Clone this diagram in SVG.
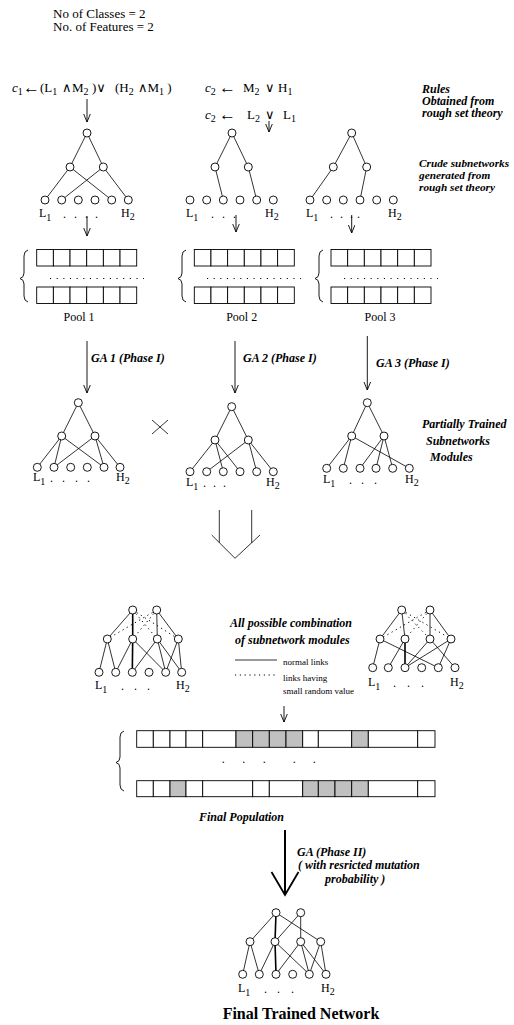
<svg xmlns="http://www.w3.org/2000/svg" width="514" height="1025" viewBox="0 0 514 1025">
<style>
.n{fill:#fff;stroke:#000;stroke-width:0.9}
.e{stroke:#000;stroke-width:0.8;fill:none}
.k{stroke:#000;stroke-width:1.6;fill:none}
.d{stroke:#000;stroke-width:1;stroke-dasharray:1.2 3.6;fill:none}
.c{fill:#fff;stroke:#000;stroke-width:0.9}
.g{fill:#c0c0c0;stroke:#000;stroke-width:0.9}
.t{font-family:"Liberation Serif","DejaVu Serif",serif;font-size:12px;fill:#000}
.h{font-family:"Liberation Serif","DejaVu Serif",serif;font-size:13px;fill:#000}
.r{font-family:"Liberation Serif","DejaVu Serif",serif;font-size:13px;fill:#000}
.ar{font-size:17px}
.bi{font-family:"Liberation Serif","DejaVu Serif",serif;font-size:12px;font-weight:bold;font-style:italic;fill:#000}
.bs{font-family:"Liberation Serif","DejaVu Serif",serif;font-size:11.3px;font-weight:bold;font-style:italic;fill:#000}
.sm{font-family:"Liberation Serif","DejaVu Serif",serif;font-size:9px;fill:#000}
.s{font-size:10px}
.a{stroke:#000;stroke-width:0.9;fill:none;marker-end:url(#ah)}
.br{stroke:#000;stroke-width:0.9;fill:none}
.pd{stroke:#000;stroke-width:1.1;stroke-dasharray:1.1 5.55;fill:none}
</style>
<defs>
<marker id="ah" markerUnits="userSpaceOnUse" markerWidth="10" markerHeight="9" refX="8.5" refY="3.5" orient="auto">
<path d="M0,0 L8.5,3.5 L0,7" fill="none" stroke="#000" stroke-width="0.9"/>
</marker>
</defs>

<g id="header">
<text class="h" x="53" y="18">No of Classes = 2</text>
<text class="h" x="53" y="31">No. of Features = 2</text>
</g>

<g id="rules">
<text class="r" y="92"><tspan x="12" font-style="italic">c</tspan><tspan class="s" dy="3">1</tspan><tspan x="23" dy="-2" class="ar">←</tspan><tspan x="40" dy="-1">(L</tspan><tspan class="s" dy="3">1</tspan><tspan x="62" dy="-3">∧</tspan><tspan x="72">M</tspan><tspan class="s" dy="3">2</tspan><tspan x="92" dy="-3">)∨</tspan><tspan x="115">(H</tspan><tspan class="s" dy="3">2</tspan><tspan x="138" dy="-3">∧M</tspan><tspan class="s" dy="3">1</tspan><tspan dy="-3"> )</tspan></text>
<text class="r" y="92"><tspan x="205" font-style="italic">c</tspan><tspan class="s" dy="3">2</tspan><tspan x="219" dy="-2" class="ar">←</tspan><tspan x="243" dy="-1">M</tspan><tspan class="s" dy="3">2</tspan><tspan x="265" dy="-3">∨</tspan><tspan x="278">H</tspan><tspan class="s" dy="3">1</tspan></text>
<text class="r" y="119"><tspan x="205" font-style="italic">c</tspan><tspan class="s" dy="3">2</tspan><tspan x="219" dy="-2" class="ar">←</tspan><tspan x="247" dy="-1">L</tspan><tspan class="s" dy="3">2</tspan><tspan x="265" dy="-3">∨</tspan><tspan x="283">L</tspan><tspan class="s" dy="3">1</tspan></text>
<text class="bi" x="422" y="93">Rules</text>
<text class="bi" x="422" y="105">Obtained from</text>
<text class="bi" x="422" y="117">rough set theory</text>
</g>

<g id="crude1">
<line class="e" x1="87" y1="133" x2="70" y2="167"/><line class="e" x1="87" y1="133" x2="103.3" y2="167"/>
<line class="e" x1="70" y1="167" x2="45" y2="200"/><line class="e" x1="70" y1="167" x2="111.7" y2="200"/>
<line class="e" x1="103.3" y1="167" x2="61.7" y2="200"/><line class="e" x1="103.3" y1="167" x2="128.3" y2="200"/>
<circle class="n" cx="87" cy="133" r="4"/><circle class="n" cx="70" cy="167" r="4"/><circle class="n" cx="103.3" cy="167" r="4"/>
<circle class="n" cx="45" cy="200" r="4"/><circle class="n" cx="61.7" cy="200" r="4"/><circle class="n" cx="78.3" cy="200" r="4"/><circle class="n" cx="95" cy="200" r="4"/><circle class="n" cx="111.7" cy="200" r="4"/><circle class="n" cx="128.3" cy="200" r="4"/>
<text class="t" x="39" y="217">L<tspan class="s" dy="4">1</tspan></text>
<text class="t" x="63 74 85 95" y="218">....</text>
<text class="t" x="121" y="217">H<tspan class="s" dy="3">2</tspan></text>
</g>

<g id="crude2">
<line class="e" x1="232" y1="133" x2="215" y2="167"/><line class="e" x1="232" y1="133" x2="248.3" y2="167"/>
<line class="e" x1="215" y1="167" x2="223.3" y2="200"/><line class="e" x1="248.3" y1="167" x2="256.7" y2="200"/>
<circle class="n" cx="232" cy="133" r="4"/><circle class="n" cx="215" cy="167" r="4"/><circle class="n" cx="248.3" cy="167" r="4"/>
<circle class="n" cx="190" cy="200" r="4"/><circle class="n" cx="206.7" cy="200" r="4"/><circle class="n" cx="223.3" cy="200" r="4"/><circle class="n" cx="240" cy="200" r="4"/><circle class="n" cx="256.7" cy="200" r="4"/><circle class="n" cx="273.3" cy="200" r="4"/>
<text class="t" x="186" y="217">L<tspan class="s" dy="4">1</tspan></text>
<text class="t" x="211 222 233" y="218">...</text>
<text class="t" x="265" y="217">H<tspan class="s" dy="3">2</tspan></text>
</g>

<g id="crude3">
<line class="e" x1="351.7" y1="133" x2="333.3" y2="167"/><line class="e" x1="351.7" y1="133" x2="366.7" y2="167"/>
<line class="e" x1="333.3" y1="167" x2="310" y2="200"/><line class="e" x1="366.7" y1="167" x2="360" y2="200"/>
<circle class="n" cx="351.7" cy="133" r="4"/><circle class="n" cx="333.3" cy="167" r="4"/><circle class="n" cx="366.7" cy="167" r="4"/>
<circle class="n" cx="310" cy="200" r="4"/><circle class="n" cx="326.7" cy="200" r="4"/><circle class="n" cx="343.3" cy="200" r="4"/><circle class="n" cx="360" cy="200" r="4"/><circle class="n" cx="376.7" cy="200" r="4"/><circle class="n" cx="393.3" cy="200" r="4"/>
<text class="t" x="306" y="217">L<tspan class="s" dy="4">1</tspan></text>
<text class="t" x="330 340 350 357" y="218">....</text>
<text class="t" x="388" y="217">H<tspan class="s" dy="3">2</tspan></text>
<text class="bs" x="419" y="167">Crude subnetworks</text>
<text class="bs" x="419" y="179">generated from</text>
<text class="bs" x="419" y="191">rough set theory</text>
</g>

<g id="pool1">
<path class="br" d="M28,250 Q24,251 24,256 L24,273 Q24,277.5 20,278.5 Q24,279.5 24,284 L24,296 Q24,301 28,302"/>
<rect class="c" x="36.7" y="249.5" width="16.67" height="16.5"/><rect class="c" x="53.37" y="249.5" width="16.67" height="16.5"/><rect class="c" x="70.03" y="249.5" width="16.67" height="16.5"/><rect class="c" x="86.7" y="249.5" width="16.67" height="16.5"/><rect class="c" x="103.37" y="249.5" width="16.67" height="16.5"/><rect class="c" x="120.03" y="249.5" width="16.67" height="16.5"/>
<line class="pd" x1="50" y1="278.5" x2="144" y2="278.5"/>
<rect class="c" x="36.7" y="287" width="16.67" height="16.5"/><rect class="c" x="53.37" y="287" width="16.67" height="16.5"/><rect class="c" x="70.03" y="287" width="16.67" height="16.5"/><rect class="c" x="86.7" y="287" width="16.67" height="16.5"/><rect class="c" x="103.37" y="287" width="16.67" height="16.5"/><rect class="c" x="120.03" y="287" width="16.67" height="16.5"/>
<text class="t" x="79" y="321" text-anchor="middle">Pool 1</text>
</g>

<g id="pool2">
<path class="br" d="M186,250 Q182,251 182,256 L182,273 Q182,277.5 178,278.5 Q182,279.5 182,284 L182,296 Q182,301 186,302"/>
<rect class="c" x="194.3" y="249.5" width="16.67" height="16.5"/><rect class="c" x="210.97" y="249.5" width="16.67" height="16.5"/><rect class="c" x="227.63" y="249.5" width="16.67" height="16.5"/><rect class="c" x="244.3" y="249.5" width="16.67" height="16.5"/><rect class="c" x="260.97" y="249.5" width="16.67" height="16.5"/><rect class="c" x="277.63" y="249.5" width="16.67" height="16.5"/>
<line class="pd" x1="207" y1="278.5" x2="301" y2="278.5"/>
<rect class="c" x="194.3" y="287" width="16.67" height="16.5"/><rect class="c" x="210.97" y="287" width="16.67" height="16.5"/><rect class="c" x="227.63" y="287" width="16.67" height="16.5"/><rect class="c" x="244.3" y="287" width="16.67" height="16.5"/><rect class="c" x="260.97" y="287" width="16.67" height="16.5"/><rect class="c" x="277.63" y="287" width="16.67" height="16.5"/>
<text class="t" x="241.7" y="321" text-anchor="middle">Pool 2</text>
</g>

<g id="pool3">
<path class="br" d="M323,250 Q319,251 319,256 L319,273 Q319,277.5 315,278.5 Q319,279.5 319,284 L319,296 Q319,301 323,302"/>
<rect class="c" x="331" y="249.5" width="16.67" height="16.5"/><rect class="c" x="347.67" y="249.5" width="16.67" height="16.5"/><rect class="c" x="364.33" y="249.5" width="16.67" height="16.5"/><rect class="c" x="381" y="249.5" width="16.67" height="16.5"/><rect class="c" x="397.67" y="249.5" width="16.67" height="16.5"/><rect class="c" x="414.33" y="249.5" width="16.67" height="16.5"/>
<line class="pd" x1="344" y1="278.5" x2="438" y2="278.5"/>
<rect class="c" x="331" y="287" width="16.67" height="16.5"/><rect class="c" x="347.67" y="287" width="16.67" height="16.5"/><rect class="c" x="364.33" y="287" width="16.67" height="16.5"/><rect class="c" x="381" y="287" width="16.67" height="16.5"/><rect class="c" x="397.67" y="287" width="16.67" height="16.5"/><rect class="c" x="414.33" y="287" width="16.67" height="16.5"/>
<text class="t" x="380" y="321" text-anchor="middle">Pool 3</text>
</g>

<g id="trainedA">
<line class="e" x1="78.3" y1="402.7" x2="61.7" y2="436"/><line class="e" x1="78.3" y1="402.7" x2="95" y2="436"/>
<line class="e" x1="61.7" y1="436" x2="37.3" y2="467.3"/><line class="e" x1="61.7" y1="436" x2="54" y2="467.3"/><line class="e" x1="61.7" y1="436" x2="104" y2="467.3"/>
<line class="e" x1="95" y1="436" x2="54" y2="467.3"/><line class="e" x1="95" y1="436" x2="104" y2="467.3"/><line class="e" x1="95" y1="436" x2="120" y2="467.3"/>
<circle class="n" cx="78.3" cy="402.7" r="4"/><circle class="n" cx="61.7" cy="436" r="4"/><circle class="n" cx="95" cy="436" r="4"/>
<circle class="n" cx="37.3" cy="467.3" r="4"/><circle class="n" cx="54" cy="467.3" r="4"/><circle class="n" cx="70.7" cy="467.3" r="4"/><circle class="n" cx="87.3" cy="467.3" r="4"/><circle class="n" cx="104" cy="467.3" r="4"/><circle class="n" cx="120" cy="467.3" r="4"/>
<text class="t" x="33" y="481">L<tspan class="s" dy="4">1</tspan></text>
<text class="t" x="50 62 75 87" y="482">....</text>
<text class="t" x="116" y="481">H<tspan class="s" dy="3">2</tspan></text>
</g>

<g id="cross">
<line class="e" x1="152" y1="420" x2="168" y2="434"/><line class="e" x1="168" y1="420" x2="152" y2="434"/>
</g>

<g id="trainedB">
<line class="e" x1="231.7" y1="406.7" x2="215" y2="440"/><line class="e" x1="231.7" y1="406.7" x2="248.3" y2="440"/>
<line class="e" x1="215" y1="440" x2="190" y2="471.7"/><line class="e" x1="215" y1="440" x2="223.3" y2="471.7"/><line class="e" x1="215" y1="440" x2="240" y2="471.7"/>
<line class="e" x1="248.3" y1="440" x2="206.7" y2="471.7"/><line class="e" x1="248.3" y1="440" x2="256.7" y2="471.7"/><line class="e" x1="248.3" y1="440" x2="273.3" y2="471.7"/>
<circle class="n" cx="231.7" cy="406.7" r="4"/><circle class="n" cx="215" cy="440" r="4"/><circle class="n" cx="248.3" cy="440" r="4"/>
<circle class="n" cx="190" cy="471.7" r="4"/><circle class="n" cx="206.7" cy="471.7" r="4"/><circle class="n" cx="223.3" cy="471.7" r="4"/><circle class="n" cx="240" cy="471.7" r="4"/><circle class="n" cx="256.7" cy="471.7" r="4"/><circle class="n" cx="273.3" cy="471.7" r="4"/>
<text class="t" x="186" y="486">L<tspan class="s" dy="4">1</tspan></text>
<text class="t" x="203 213 223" y="487">...</text>
<text class="t" x="266" y="486">H<tspan class="s" dy="3">2</tspan></text>
</g>

<g id="trainedC">
<line class="e" x1="367.3" y1="402.7" x2="351.7" y2="436"/><line class="e" x1="367.3" y1="402.7" x2="384" y2="436"/>
<line class="e" x1="351.7" y1="436" x2="326.7" y2="468.3"/><line class="e" x1="351.7" y1="436" x2="343.3" y2="468.3"/><line class="e" x1="351.7" y1="436" x2="409.3" y2="468.3"/>
<line class="e" x1="384" y1="436" x2="360" y2="468.3"/><line class="e" x1="384" y1="436" x2="376" y2="468.3"/><line class="e" x1="384" y1="436" x2="392.7" y2="468.3"/>
<circle class="n" cx="367.3" cy="402.7" r="4"/><circle class="n" cx="351.7" cy="436" r="4"/><circle class="n" cx="384" cy="436" r="4"/>
<circle class="n" cx="326.7" cy="468.3" r="4"/><circle class="n" cx="343.3" cy="468.3" r="4"/><circle class="n" cx="360" cy="468.3" r="4"/><circle class="n" cx="376" cy="468.3" r="4"/><circle class="n" cx="392.7" cy="468.3" r="4"/><circle class="n" cx="409.3" cy="468.3" r="4"/>
<text class="t" x="323" y="483">L<tspan class="s" dy="4">1</tspan></text>
<text class="t" x="349 361 374" y="484">...</text>
<text class="t" x="405" y="483">H<tspan class="s" dy="3">2</tspan></text>
<text class="bi" x="422" y="428">Partially Trained</text>
<text class="bi" x="426" y="445">Subnetworks</text>
<text class="bi" x="430" y="461">Modules</text>
</g>

<g id="combinedL">
<line class="d" x1="132.7" y1="610" x2="157.3" y2="639"/><line class="d" x1="132.7" y1="610" x2="178.3" y2="639"/>
<line class="d" x1="156.7" y1="610" x2="107.3" y2="639"/><line class="d" x1="156.7" y1="610" x2="132.7" y2="639"/>
<line class="e" x1="132.7" y1="610" x2="107.3" y2="639"/><line class="k" x1="132.7" y1="610" x2="132.7" y2="639"/>
<line class="e" x1="156.7" y1="610" x2="157.3" y2="639"/><line class="e" x1="156.7" y1="610" x2="178.3" y2="639"/>
<line class="e" x1="107.3" y1="639" x2="99" y2="672.3"/><line class="e" x1="107.3" y1="639" x2="115.7" y2="672.3"/>
<line class="e" x1="132.7" y1="639" x2="115.7" y2="672.3"/><line class="k" x1="132.7" y1="639" x2="132.3" y2="672.3"/><line class="e" x1="132.7" y1="639" x2="165.7" y2="672.3"/>
<line class="e" x1="157.3" y1="639" x2="132.3" y2="672.3"/><line class="e" x1="157.3" y1="639" x2="165.7" y2="672.3"/><line class="e" x1="157.3" y1="639" x2="181.7" y2="672.3"/>
<line class="e" x1="178.3" y1="639" x2="165.7" y2="672.3"/><line class="e" x1="178.3" y1="639" x2="181.7" y2="672.3"/>
<circle class="n" cx="132.7" cy="610" r="4"/><circle class="n" cx="156.7" cy="610" r="4"/>
<circle class="n" cx="107.3" cy="639" r="4"/><circle class="n" cx="132.7" cy="639" r="4"/><circle class="n" cx="157.3" cy="639" r="4"/><circle class="n" cx="178.3" cy="639" r="4"/>
<circle class="n" cx="99" cy="672.3" r="4"/><circle class="n" cx="115.7" cy="672.3" r="4"/><circle class="n" cx="132.3" cy="672.3" r="4"/><circle class="n" cx="149" cy="672.3" r="4"/><circle class="n" cx="165.7" cy="672.3" r="4"/><circle class="n" cx="181.7" cy="672.3" r="4"/>
<text class="t" x="95" y="689">L<tspan class="s" dy="4">1</tspan></text>
<text class="t" x="121 134 147" y="690">...</text>
<text class="t" x="176" y="689">H<tspan class="s" dy="3">2</tspan></text>
</g>

<g id="legend">
<text class="bi" x="230" y="627">All possible combination</text>
<text class="bi" x="235" y="644">of  subnetwork  modules</text>
<line class="e" x1="235" y1="660" x2="277" y2="660"/>
<text class="sm" x="283" y="665">normal links</text>
<line class="d" x1="235" y1="675" x2="278" y2="675"/>
<text class="sm" x="283" y="681">links having</text>
<text class="sm" x="283" y="694">small random value</text>
</g>

<g id="combinedR">
<line class="d" x1="401.7" y1="610" x2="430" y2="639"/><line class="d" x1="401.7" y1="610" x2="451" y2="639"/>
<line class="d" x1="430" y1="610" x2="380" y2="639"/><line class="d" x1="430" y1="610" x2="405" y2="639"/>
<line class="e" x1="401.7" y1="610" x2="380" y2="639"/><line class="e" x1="401.7" y1="610" x2="405" y2="639"/>
<line class="e" x1="430" y1="610" x2="430" y2="639"/><line class="e" x1="430" y1="610" x2="451" y2="639"/>
<line class="e" x1="380" y1="639" x2="372.7" y2="667.7"/><line class="e" x1="380" y1="639" x2="438.3" y2="667.7"/>
<line class="e" x1="405" y1="639" x2="388.3" y2="667.7"/><line class="k" x1="405" y1="639" x2="405" y2="667.7"/>
<line class="e" x1="430" y1="639" x2="405" y2="667.7"/><line class="e" x1="430" y1="639" x2="455" y2="667.7"/>
<line class="e" x1="451" y1="639" x2="405" y2="667.7"/><line class="e" x1="451" y1="639" x2="438.3" y2="667.7"/>
<circle class="n" cx="401.7" cy="610" r="4"/><circle class="n" cx="430" cy="610" r="4"/>
<circle class="n" cx="380" cy="639" r="4"/><circle class="n" cx="405" cy="639" r="4"/><circle class="n" cx="430" cy="639" r="4"/><circle class="n" cx="451" cy="639" r="4"/>
<circle class="n" cx="372.7" cy="667.7" r="4"/><circle class="n" cx="388.3" cy="667.7" r="4"/><circle class="n" cx="405" cy="667.7" r="4"/><circle class="n" cx="421.7" cy="667.7" r="4"/><circle class="n" cx="438.3" cy="667.7" r="4"/><circle class="n" cx="455" cy="667.7" r="4"/>
<text class="t" x="368" y="686">L<tspan class="s" dy="4">1</tspan></text>
<text class="t" x="393 407 421" y="687">...</text>
<text class="t" x="450" y="686">H<tspan class="s" dy="3">2</tspan></text>
</g>

<g id="finalPopulation">
<path class="br" d="M124,731 Q120,732 120,737 L120,757 Q120,761.5 116,762.5 Q120,763.5 120,768 L120,785 Q120,790 124,791"/>
<rect class="c" x="136.7" y="730.7" width="16.6" height="16.6"/><rect class="c" x="153.3" y="730.7" width="16.7" height="16.6"/><rect class="c" x="170" y="730.7" width="16" height="16.6"/><rect class="c" x="186" y="730.7" width="16.7" height="16.6"/><rect class="c" x="202.7" y="730.7" width="33.3" height="16.6"/>
<rect class="g" x="236" y="730.7" width="16.7" height="16.6"/><rect class="g" x="252.7" y="730.7" width="16.6" height="16.6"/><rect class="g" x="269.3" y="730.7" width="16.7" height="16.6"/><rect class="g" x="286" y="730.7" width="16.7" height="16.6"/>
<rect class="c" x="302.7" y="730.7" width="15.6" height="16.6"/><rect class="c" x="318.3" y="730.7" width="33.4" height="16.6"/><rect class="g" x="351.7" y="730.7" width="16.6" height="16.6"/><rect class="c" x="368.3" y="730.7" width="49.4" height="16.6"/><rect class="c" x="417.7" y="730.7" width="17.3" height="16.6"/>
<text class="t" x="221.7 242.3 262.7 292.7 312.7" y="763">.....</text>
<rect class="c" x="136.7" y="780.7" width="16.6" height="16"/><rect class="c" x="153.3" y="780.7" width="16.7" height="16"/><rect class="g" x="170" y="780.7" width="16" height="16"/><rect class="c" x="186" y="780.7" width="16.7" height="16"/><rect class="c" x="202.7" y="780.7" width="50" height="16"/>
<rect class="c" x="252.7" y="780.7" width="16.6" height="16"/><rect class="c" x="269.3" y="780.7" width="33.4" height="16"/>
<rect class="g" x="302.7" y="780.7" width="15.6" height="16"/><rect class="g" x="318.3" y="780.7" width="16.7" height="16"/><rect class="g" x="335" y="780.7" width="16.7" height="16"/><rect class="g" x="351.7" y="780.7" width="16.6" height="16"/>
<rect class="c" x="368.3" y="780.7" width="49.4" height="16"/><rect class="c" x="417.7" y="780.7" width="17.3" height="16"/>
<text class="bi" x="199" y="821">Final  Population</text>
</g>

<g id="phase2label">
<text class="bi" x="297" y="856">GA  (Phase II)</text>
<text class="bi" x="298" y="869">( with resricted mutation</text>
<text class="bi" x="325" y="883">probability  )</text>
</g>

<g id="finalNet">
<line class="e" x1="276" y1="912.7" x2="250" y2="941.7"/><line class="k" x1="276" y1="912.7" x2="275" y2="941.7"/><line class="e" x1="276" y1="912.7" x2="320.7" y2="941.7"/>
<line class="e" x1="300.7" y1="912.7" x2="275" y2="941.7"/><line class="e" x1="300.7" y1="912.7" x2="300.7" y2="941.7"/>
<line class="e" x1="250" y1="941.7" x2="242.7" y2="974.3"/><line class="e" x1="250" y1="941.7" x2="259.3" y2="974.3"/>
<line class="e" x1="275" y1="941.7" x2="259.3" y2="974.3"/><line class="k" x1="275" y1="941.7" x2="276" y2="974.3"/><line class="e" x1="275" y1="941.7" x2="309.3" y2="974.3"/>
<line class="e" x1="300.7" y1="941.7" x2="276" y2="974.3"/><line class="e" x1="300.7" y1="941.7" x2="309.3" y2="974.3"/><line class="e" x1="300.7" y1="941.7" x2="326" y2="974.3"/>
<line class="e" x1="320.7" y1="941.7" x2="309.3" y2="974.3"/><line class="e" x1="320.7" y1="941.7" x2="326" y2="974.3"/>
<circle class="n" cx="276" cy="912.7" r="4"/><circle class="n" cx="300.7" cy="912.7" r="4"/>
<circle class="n" cx="250" cy="941.7" r="4"/><circle class="n" cx="275" cy="941.7" r="4"/><circle class="n" cx="300.7" cy="941.7" r="4"/><circle class="n" cx="320.7" cy="941.7" r="4"/>
<circle class="n" cx="242.7" cy="974.3" r="4"/><circle class="n" cx="259.3" cy="974.3" r="4"/><circle class="n" cx="276" cy="974.3" r="4"/><circle class="n" cx="292.7" cy="974.3" r="4"/><circle class="n" cx="309.3" cy="974.3" r="4"/><circle class="n" cx="326" cy="974.3" r="4"/>
<text class="t" x="238" y="992">L<tspan class="s" dy="4">1</tspan></text>
<text class="t" x="264 277 291" y="993">...</text>
<text class="t" x="321" y="992">H<tspan class="s" dy="3">2</tspan></text>
<text x="301" y="1019" text-anchor="middle" style="font-family:'Liberation Serif','DejaVu Serif',serif;font-size:16px;font-weight:bold">Final  Trained Network</text>
</g>

<g id="connectors">
<line class="a" x1="87" y1="99" x2="87" y2="122"/>
<line class="a" x1="269" y1="121" x2="269" y2="132"/>
<line class="a" x1="87" y1="216" x2="87" y2="236"/>
<line class="a" x1="236" y1="215" x2="236" y2="232"/>
<line class="a" x1="351.7" y1="215" x2="351.7" y2="233"/>
<line class="a" x1="87" y1="341" x2="87" y2="393"/>
<text class="bi" x="91" y="362">GA 1  (Phase I)</text>
<line class="a" x1="235" y1="341" x2="235" y2="393"/>
<text class="bi" x="243" y="362">GA 2  (Phase I)</text>
<line class="a" x1="367.3" y1="336" x2="367.3" y2="390"/>
<text class="bi" x="376" y="367">GA 3 (Phase I)</text>
<path class="e" d="M219.3,510 L219.3,542.6 M251.7,510 L251.7,543 M211.7,535 L235,558.3 L260,535"/>
<line class="a" x1="284" y1="706" x2="284" y2="722"/>
<line stroke="#000" stroke-width="2" x1="285" y1="830" x2="285" y2="894"/>
<path d="M271.5,872 L285,895 L298.5,872" fill="none" stroke="#000" stroke-width="1.8"/>
</g>
</svg>
